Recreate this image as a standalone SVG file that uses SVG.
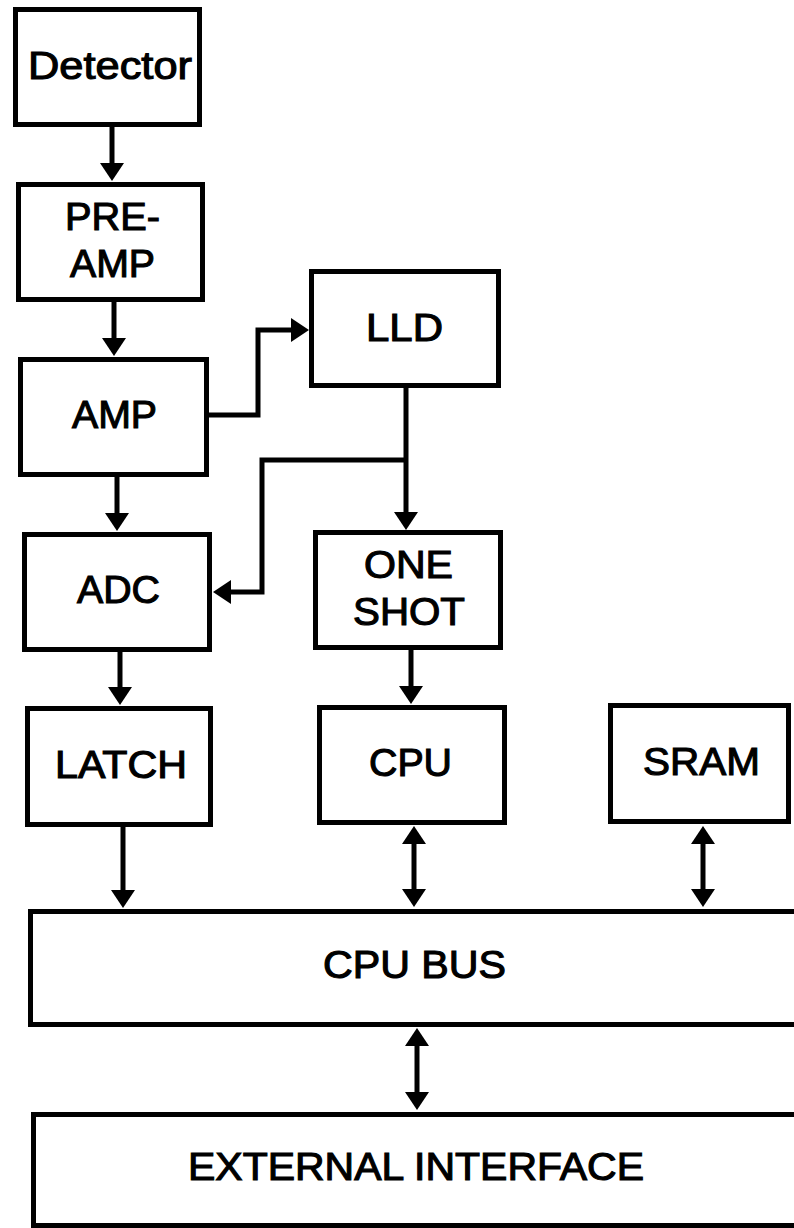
<svg xmlns="http://www.w3.org/2000/svg" width="794" height="1228" viewBox="0 0 794 1228">
<style>
.box{fill:#fff;stroke:#000;stroke-width:5}
.lbl{font-family:"Liberation Sans",Arial,sans-serif;font-weight:normal;font-size:38px;fill:#000;stroke:#000;stroke-width:1.1}
.con{fill:none;stroke:#000;stroke-width:5}
.a{marker-end:url(#ah)}
.d{marker-start:url(#ah);marker-end:url(#ah)}
</style>
<defs>
<marker id="ah" markerUnits="userSpaceOnUse" markerWidth="18" markerHeight="24" refX="8" refY="12" orient="auto-start-reverse" viewBox="0 0 18 24">
<path d="M0,0 L18,12 L0,24 z" fill="#000"/>
</marker>
</defs>
<rect width="794" height="1228" fill="#fff"/>
<g id="connectors">
<path class="con a" d="M112,127 V171"/>
<path class="con a" d="M114,302 V346"/>
<path class="con a" d="M208,415 H258 V330 H299"/>
<path class="con a" d="M406,388 V520"/>
<path class="con a" d="M406,460 H262 V592 H223"/>
<path class="con a" d="M117,477 V521"/>
<path class="con a" d="M120,652 V695"/>
<path class="con a" d="M411,650 V694"/>
<path class="con a" d="M123,827 V898"/>
<path class="con d" d="M414,836 V897"/>
<path class="con d" d="M703,836 V897"/>
<path class="con d" d="M417,1038 V1100"/>
</g>
<g id="detector"><rect class="box" x="15.5" y="9.5" width="184" height="115"/><text class="lbl" x="28" y="79" textLength="164" lengthAdjust="spacingAndGlyphs">Detector</text></g>
<g id="preamp"><rect class="box" x="18.5" y="184.5" width="184" height="115"/><text class="lbl" x="65" y="230" textLength="95" lengthAdjust="spacingAndGlyphs">PRE-</text><text class="lbl" x="70" y="277" textLength="85" lengthAdjust="spacingAndGlyphs">AMP</text></g>
<g id="amp"><rect class="box" x="20.5" y="359.5" width="186" height="115"/><text class="lbl" x="72" y="428" textLength="85" lengthAdjust="spacingAndGlyphs">AMP</text></g>
<g id="lld"><rect class="box" x="311.5" y="271.5" width="187" height="114"/><text class="lbl" x="366" y="341" textLength="77" lengthAdjust="spacingAndGlyphs">LLD</text></g>
<g id="adc"><rect class="box" x="24.5" y="534.5" width="185" height="115"/><text class="lbl" x="77" y="603" textLength="83" lengthAdjust="spacingAndGlyphs">ADC</text></g>
<g id="oneshot"><rect class="box" x="315.5" y="532.5" width="185" height="115"/><text class="lbl" x="364" y="578" textLength="89" lengthAdjust="spacingAndGlyphs">ONE</text><text class="lbl" x="353" y="625" textLength="112" lengthAdjust="spacingAndGlyphs">SHOT</text></g>
<g id="latch"><rect class="box" x="27.5" y="708.5" width="183" height="116"/><text class="lbl" x="55" y="778" textLength="132" lengthAdjust="spacingAndGlyphs">LATCH</text></g>
<g id="cpu"><rect class="box" x="319.5" y="707.5" width="185" height="115"/><text class="lbl" x="369" y="776" textLength="83" lengthAdjust="spacingAndGlyphs">CPU</text></g>
<g id="sram"><rect class="box" x="610.5" y="705.5" width="178" height="116"/><text class="lbl" x="643" y="775" textLength="117" lengthAdjust="spacingAndGlyphs">SRAM</text></g>
<g id="cpubus"><rect class="box" x="30.5" y="911.5" width="780" height="113"/><text class="lbl" x="323" y="978" textLength="183" lengthAdjust="spacingAndGlyphs">CPU BUS</text></g>
<g id="external"><rect class="box" x="33.5" y="1114.5" width="780" height="111"/><text class="lbl" x="188" y="1180" textLength="456" lengthAdjust="spacingAndGlyphs">EXTERNAL INTERFACE</text></g>
</svg>
